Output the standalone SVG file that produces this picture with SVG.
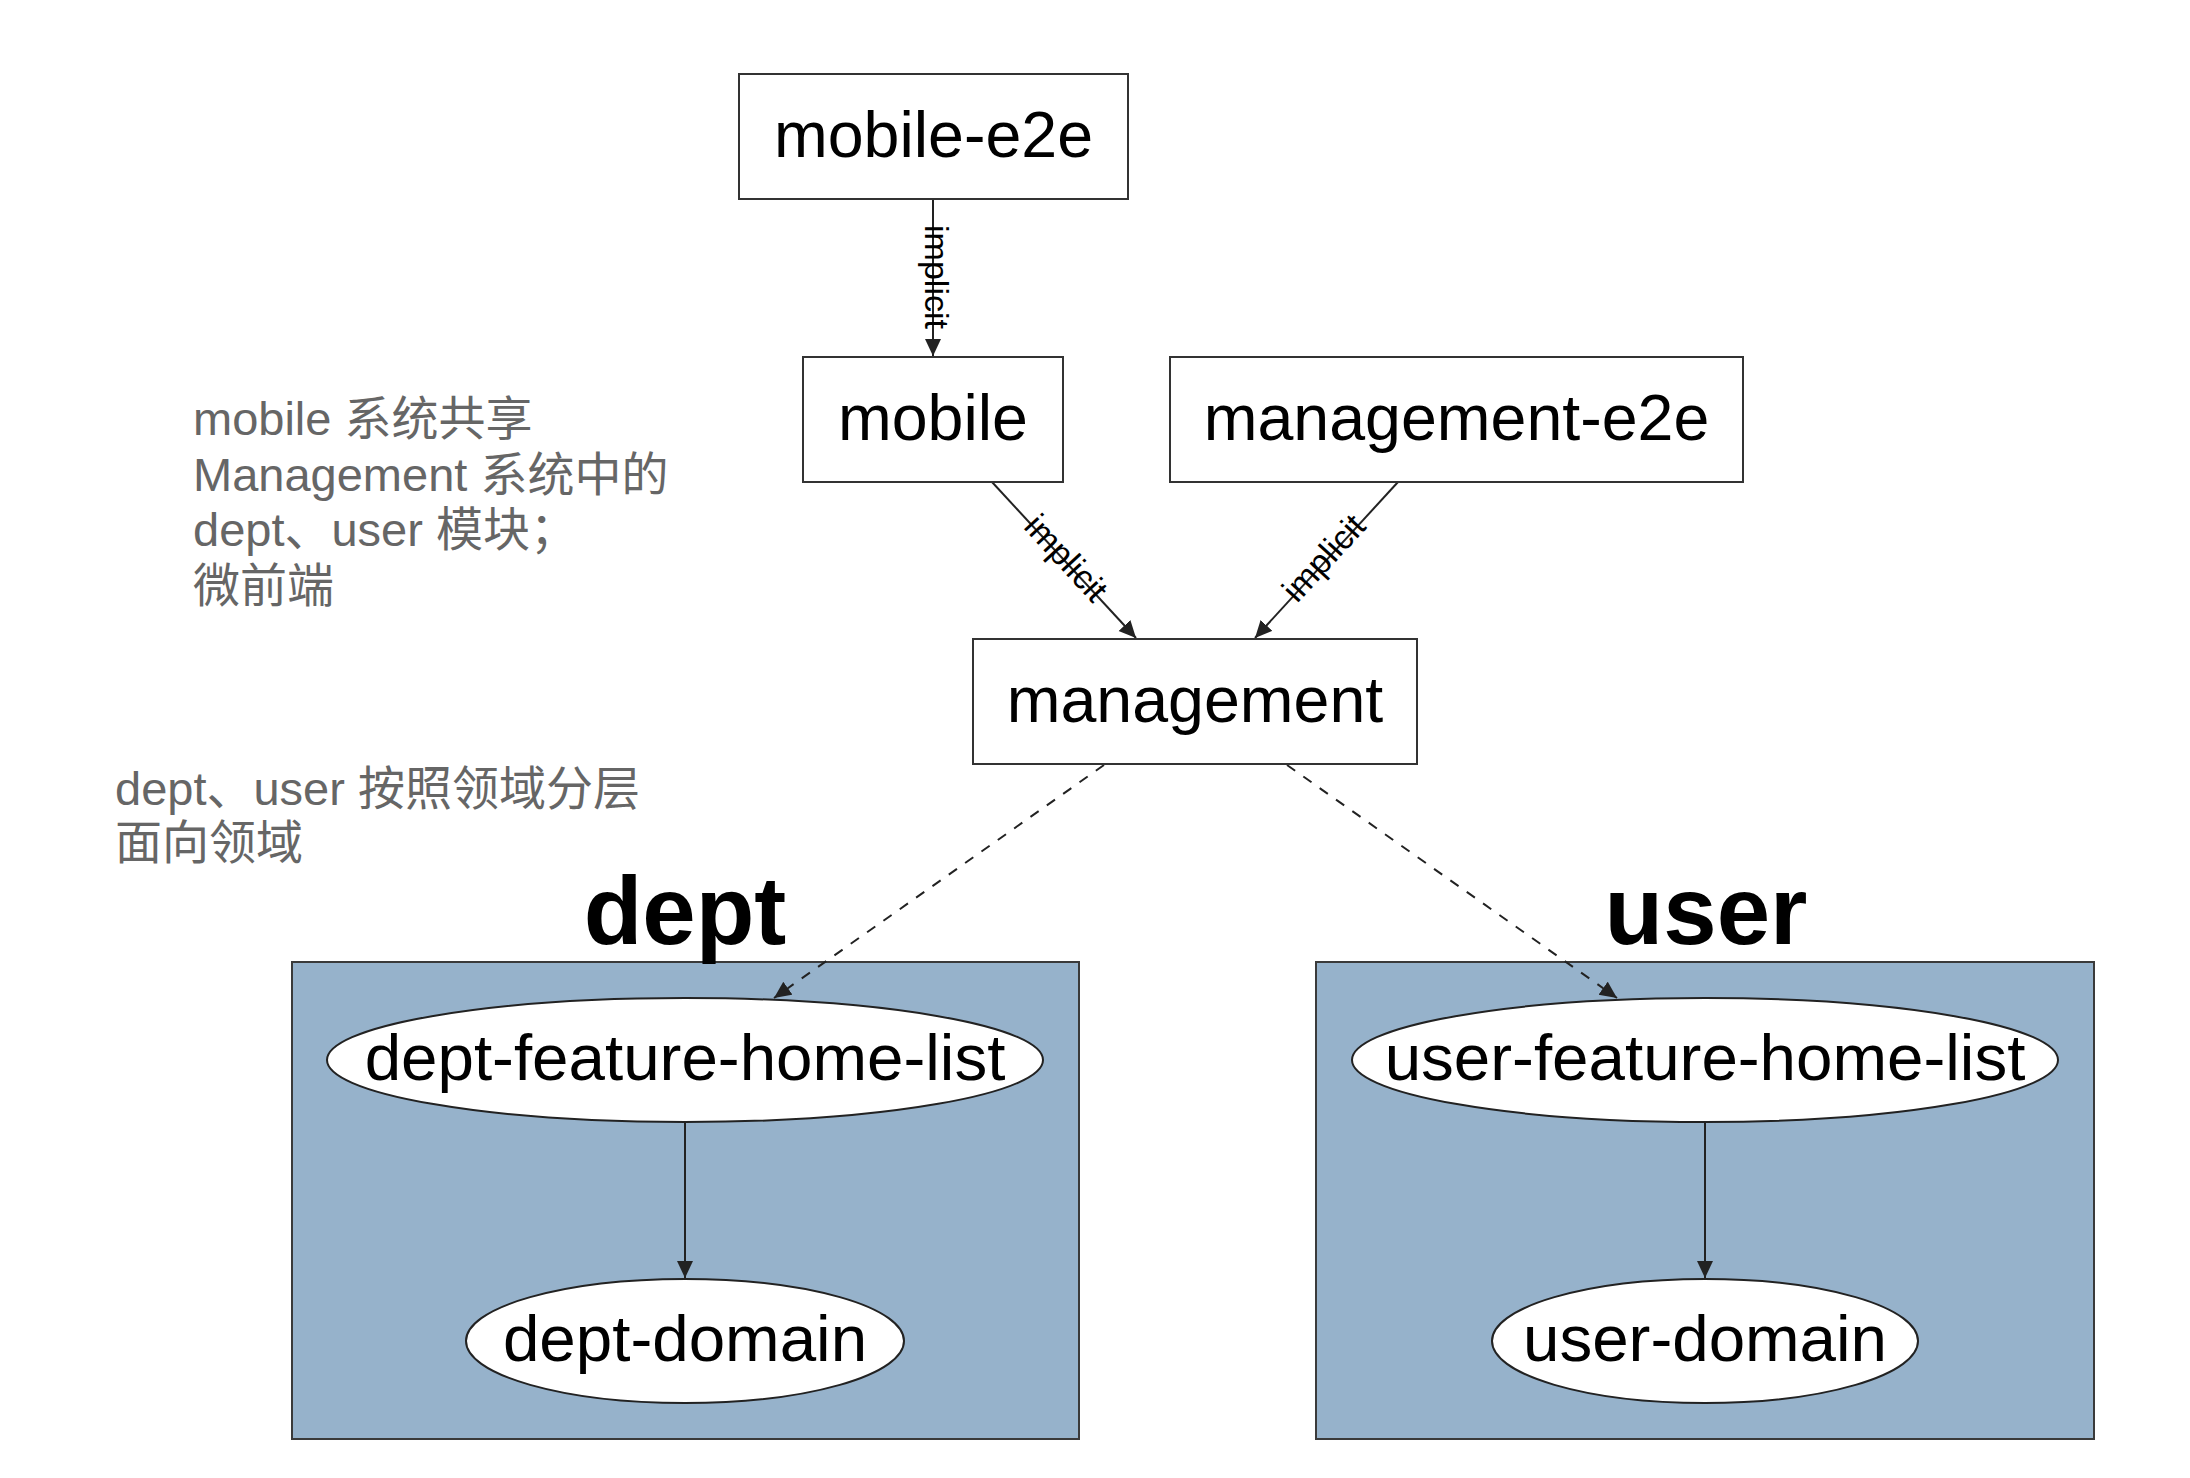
<svg xmlns="http://www.w3.org/2000/svg" width="2190" height="1478" viewBox="0 0 2190 1478">
<style>
  .box { fill: #ffffff; stroke: #333333; stroke-width: 2; }
  .ell { fill: #ffffff; stroke: #222222; stroke-width: 2; }
  .cluster { fill: #96B2CB; stroke: #3a3a3a; stroke-width: 2; }
  .ntext { font-family: "Liberation Sans", Arial, Helvetica, sans-serif; font-size: 64.5px; fill: #000000; text-anchor: middle; }
  .etext { font-family: "Liberation Sans", Arial, Helvetica, sans-serif; font-size: 65.5px; fill: #000000; text-anchor: middle; }
  .ctext { font-family: "Liberation Sans", Arial, Helvetica, sans-serif; font-size: 96px; font-weight: bold; fill: #000000; text-anchor: middle; }
  .ltext { font-family: "Liberation Sans", Arial, Helvetica, sans-serif; font-size: 34px; fill: #000000; text-anchor: middle; }
  .note { font-family: "Liberation Sans", "Noto Sans CJK SC", sans-serif; font-size: 47px; fill: #666666; }
  .edge { fill: none; stroke: #222222; stroke-width: 2; }
  .dashed { stroke-dasharray: 10 10; }
</style>
<defs>
  <marker id="arrow" markerUnits="userSpaceOnUse" markerWidth="18" markerHeight="17" refX="17" refY="8" orient="auto">
    <path d="M0,0 L17,8 L0,16 z" fill="#222222"/>
  </marker>
</defs>

<rect width="2190" height="1478" fill="#ffffff"/>

<g id="cluster-dept">
  <rect class="cluster" x="292" y="962" width="787" height="477"/>
  <text class="ctext" x="685" y="944">dept</text>
</g>
<g id="cluster-user">
  <rect class="cluster" x="1316" y="962" width="778" height="477"/>
  <text class="ctext" x="1706" y="944">user</text>
</g>

<g id="note-1">
  <text class="note" x="193" y="435">mobile 系统共享</text>
  <text class="note" x="193" y="490.5">Management 系统中的</text>
  <text class="note" x="193" y="546">dept、user 模块；</text>
  <text class="note" x="193" y="601.5">微前端</text>
</g>
<g id="note-2">
  <text class="note" x="115" y="805">dept、user 按照领域分层</text>
  <text class="note" x="115" y="859">面向领域</text>
</g>

<g id="connectors">
  <line class="edge" x1="933" y1="199" x2="933" y2="356" marker-end="url(#arrow)"/>
  <g transform="translate(933,277) rotate(90)"><text class="ltext" x="0" y="8.5">implicit</text></g>

  <line class="edge" x1="992" y1="482" x2="1136" y2="638" marker-end="url(#arrow)"/>
  <g transform="translate(1064,560) rotate(47.3)"><text class="ltext" x="0" y="8.5">implicit</text></g>

  <line class="edge" x1="1398" y1="482" x2="1255" y2="638" marker-end="url(#arrow)"/>
  <g transform="translate(1326,560) rotate(-47.4)"><text class="ltext" x="0" y="8.5">implicit</text></g>

  <line class="edge dashed" x1="1104" y1="765" x2="774" y2="998" marker-end="url(#arrow)"/>
  <line class="edge dashed" x1="1287" y1="765" x2="1617" y2="998" marker-end="url(#arrow)"/>

  <line class="edge" x1="685" y1="1122" x2="685" y2="1278" marker-end="url(#arrow)"/>
  <line class="edge" x1="1705" y1="1122" x2="1705" y2="1278" marker-end="url(#arrow)"/>
</g>

<g id="node-mobile-e2e">
  <rect class="box" x="739" y="74" width="389" height="125"/>
  <text class="ntext" x="933.5" y="157">mobile-e2e</text>
</g>
<g id="node-mobile">
  <rect class="box" x="803" y="357" width="260" height="125"/>
  <text class="ntext" x="933" y="440">mobile</text>
</g>
<g id="node-management-e2e">
  <rect class="box" x="1170" y="357" width="573" height="125"/>
  <text class="ntext" x="1456.5" y="440">management-e2e</text>
</g>
<g id="node-management">
  <rect class="box" x="973" y="639" width="444" height="125"/>
  <text class="ntext" x="1195" y="722">management</text>
</g>

<g id="node-dept-feature-home-list">
  <ellipse class="ell" cx="685" cy="1060" rx="358" ry="62"/>
  <text class="etext" x="685" y="1080">dept-feature-home-list</text>
</g>
<g id="node-dept-domain">
  <ellipse class="ell" cx="685" cy="1341" rx="219" ry="62"/>
  <text class="etext" x="685" y="1361">dept-domain</text>
</g>
<g id="node-user-feature-home-list">
  <ellipse class="ell" cx="1705" cy="1060" rx="353" ry="62"/>
  <text class="etext" x="1705" y="1080">user-feature-home-list</text>
</g>
<g id="node-user-domain">
  <ellipse class="ell" cx="1705" cy="1341" rx="213" ry="62"/>
  <text class="etext" x="1705" y="1361">user-domain</text>
</g>
</svg>
